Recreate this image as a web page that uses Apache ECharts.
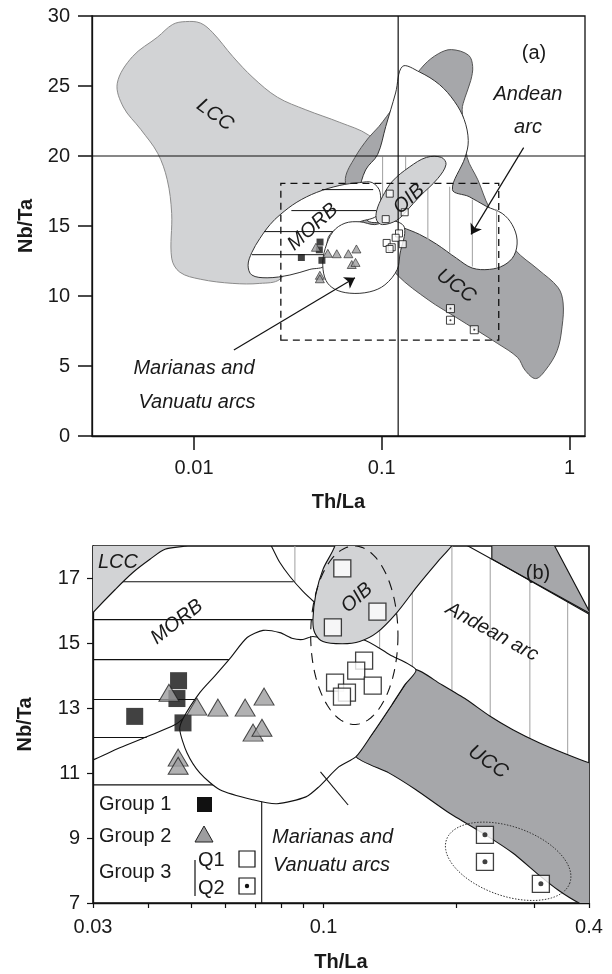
<!DOCTYPE html>
<html><head><meta charset="utf-8">
<script src="https://cdn.jsdelivr.net/npm/echarts@6/dist/echarts.min.js"></script>
<style>html,body{margin:0;padding:0;background:#fff}#c{width:612px;height:974px}</style>
</head><body><div id="c"></div>
<script>
// ---------- sample data (Th/La, Nb/Ta) ----------
const group1 = [[0.0373,12.75],[0.0469,13.85],[0.0465,13.3],[0.048,12.55]];
const group2 = [[0.0446,13.48],[0.0516,13.05],[0.0576,13.02],[0.0664,13.02],[0.0733,13.36],[0.0692,12.25],[0.0725,12.4],[0.0468,11.48],[0.0468,11.23]];
const q1 = [[0.1103,17.31],[0.1325,15.98],[0.105,15.49],[0.1236,14.47],[0.1186,14.16],[0.1062,13.79],[0.113,13.48],[0.1101,13.36],[0.1293,13.7]];
const q2 = [[0.2323,9.1],[0.2323,8.27],[0.3111,7.59]];

// ---------- tick values ----------
const topXTicks = [0.01, 0.1, 1];
const topYTicks = [0, 5, 10, 15, 20, 25, 30];
const botXLabels = [0.03, 0.1, 0.4];
const botXTicks = [0.03, 0.04, 0.05, 0.06, 0.07, 0.08, 0.09, 0.1, 0.2, 0.3, 0.4];
const botYTicks = [7, 9, 11, 13, 15, 17];

// ---------- field outlines, panel (a) ----------
const topLCC = [[0.0077,29.4],[0.0090,29.6],[0.0108,29.5],[0.0126,28.8],[0.0161,27.1],[0.0206,25.6],[0.0278,24.2],[0.0394,23.3],[0.0598,22.4],[0.085,21.5],[0.098,20.4],[0.076,17.9],[0.053,15.8],[0.037,13.3],[0.0287,11.2],[0.0224,10.9],[0.0161,10.9],[0.0108,11.2],[0.0084,11.7],[0.0076,12.7],[0.0076,15.9],[0.0072,18.3],[0.0064,20.2],[0.0052,21.9],[0.0042,23.5],[0.0039,25.2],[0.0047,27.1],[0.0064,28.5]];
const topUCC = [[0.168,26.5],[0.2,27.3],[0.235,27.6],[0.29,27.2],[0.305,26.4],[0.298,25.4],[0.278,24.2],[0.268,23.3],[0.278,21.9],[0.285,19.9],[0.325,18.3],[0.374,16.3],[0.448,14.8],[0.513,13.3],[0.68,11.9],[0.87,10.6],[0.925,9.5],[0.913,7.8],[0.86,6.1],[0.745,4.7],[0.66,4.1],[0.58,4.7],[0.53,5.6],[0.415,6.6],[0.247,8.5],[0.178,9.7],[0.121,11.5],[0.098,13.3],[0.081,15.1],[0.068,17.2],[0.064,18.4],[0.072,19.9],[0.085,21.3],[0.0965,22.1],[0.117,23.6],[0.14,25.1]];
const topAndean = [[0.129,26.4],[0.159,26.0],[0.203,25.1],[0.244,23.9],[0.275,22.6],[0.289,21.1],[0.278,19.9],[0.238,17.6],[0.292,17.1],[0.361,16.4],[0.438,15.9],[0.495,15.1],[0.526,14.0],[0.507,12.9],[0.448,12.2],[0.374,11.9],[0.303,12.0],[0.25,12.7],[0.196,13.7],[0.159,14.4],[0.129,14.9],[0.110,15.3],[0.086,15.3],[0.078,16.1],[0.076,17.4],[0.082,19.0],[0.095,20.1],[0.105,22.1],[0.1185,24.5]];
const topAndeanHatch = [[0.101,15.1,19.95],[0.134,19.0,19.95],[0.176,14.0,19.95],[0.23,13.1,17.8],[0.304,12.1,16.9],[0.409,12.0,16.2]];
const topMORB = [[0.0194,12.2],[0.0203,13.1],[0.0224,14.1],[0.0254,15.1],[0.0287,15.8],[0.0353,16.7],[0.045,17.4],[0.0598,17.9],[0.0764,18.1],[0.089,18.1],[0.098,17.4],[0.095,15.8],[0.0764,15.3],[0.053,14.4],[0.0498,12.2],[0.0414,11.9],[0.0324,11.5],[0.0245,11.3],[0.0203,11.5]];
const topMORBHatch = [[0.048,17.6,0.09],[0.033,16.1,0.094],[0.0236,14.6,0.062],[0.0203,12.95,0.05]];
const topMarianas = [[0.0485,12.2],[0.050,13.4],[0.055,14.6],[0.0637,15.2],[0.0764,15.3],[0.0918,15.1],[0.112,15.4],[0.132,14.9],[0.125,13.0],[0.121,11.9],[0.104,10.8],[0.0864,10.3],[0.0676,10.2],[0.056,10.5],[0.0505,11.1]];
const topOIB = [[0.208,19.9],[0.22,19.4],[0.199,18.4],[0.159,17.1],[0.136,16.1],[0.12,15.4],[0.101,15.1],[0.094,15.4],[0.094,16.1],[0.101,17.1],[0.114,18.2],[0.14,19.2],[0.173,19.9]];
const topRefLines = [[[0.002,20],[2,20]],[[0.1223,-1],[0.1223,31]]];
const topZoomBox = [[0.029,6.85],[0.42,6.85],[0.42,18.05],[0.029,18.05]];
const topArrows = [[[0.57,20.6],[0.299,14.4]],[[0.0163,6.14],[0.072,11.3]]];

// ---------- field outlines, panel (b) ----------
const botLCC = [[0.0285,18.4],[0.052,18.4],[0.050,18.05],[0.0437,17.9],[0.0404,17.59],[0.037,17.19],[0.0337,16.66],[0.0300,15.95],[0.0285,15.6]];
const botUCC = [[0.162,14.19],[0.1836,13.76],[0.2108,13.27],[0.2377,12.77],[0.2687,12.34],[0.3082,11.94],[0.3535,11.6],[0.4,11.32],[0.43,11.2],[0.43,6.7],[0.3797,7.0],[0.3403,7.4],[0.3082,7.86],[0.2687,8.54],[0.2329,9.1],[0.1924,9.78],[0.162,10.49],[0.1406,11.01],[0.1185,11.51],[0.1287,12.19],[0.1429,13.11],[0.153,13.73]];
const botUCCCorner = [[0.2408,18.2],[0.3284,18.2],[0.4052,15.86],[0.2408,17.6]];
const botOIB = [[0.1053,18.3],[0.1062,18.02],[0.0997,17.28],[0.0960,16.5],[0.0946,15.73],[0.0955,15.33],[0.0997,15.06],[0.1103,14.99],[0.1208,15.06],[0.1321,15.33],[0.1467,15.95],[0.1629,16.75],[0.1808,17.49],[0.1956,18.02],[0.2,18.3]];
const botMarianas = [[0.0480,12.68],[0.0524,13.48],[0.0567,14.0],[0.0613,14.53],[0.0671,15.18],[0.0729,15.40],[0.0796,15.33],[0.0852,15.15],[0.0898,15.12],[0.0946,15.21],[0.105,15.1],[0.1228,15.12],[0.1413,14.65],[0.162,14.19],[0.153,13.73],[0.1429,13.11],[0.1287,12.19],[0.1185,11.51],[0.1084,11.2],[0.0976,10.58],[0.0912,10.27],[0.0784,10.06],[0.0692,10.18],[0.0582,10.49],[0.0524,11.01],[0.0490,11.63],[0.0472,12.34]];
const botLobe = [[0.0756,18.08],[0.0768,17.9],[0.0796,17.49],[0.0839,17.06],[0.0898,16.6],[0.0955,16.26]];
const botDiagonal = [[0.2,18.2],[0.405,15.9]];
const botMORBBase = [[0.0285,11.3],[0.03,11.41],[0.0345,11.78],[0.0397,12.12],[0.046,12.49],[0.048,12.68]];
const botMORBHatch = [[0.034,16.9,0.0855],[0.028,15.73,0.0946],[0.028,14.5,0.0613],[0.028,13.27,0.0514],[0.028,12.1,0.0397]];
const botAndeanHatch = [[0.0861,16.9,18.3],[0.134,14.5,16],[0.159,14.0,17.0],[0.1955,13.3,18.3],[0.2388,12.5,17.62],[0.2937,11.8,16.97],[0.3578,11.3,16.32]];
const botOIBEllipse = [[0.0935,12.5,0.1475,18.0]];
const botQ2Ellipse = [[0.19,8.95,0.362,7.62,0.53]];
const botBoxLines = [[[0.028,10.64],[0.058,10.64]],[[0.0724,10.3],[0.0724,6.8]]];
const botLeader = [[0.0984,11.04],[0.1137,10.02]];

// ---------- helpers ----------
const FONT = 'Liberation Sans, Arial, sans-serif';
const LIGHT = '#d2d3d5', DARK = '#a6a7aa';

function shape(g, pts, style, smooth, closed) {
  return {
    type: 'custom', coordinateSystem: 'cartesian2d', xAxisIndex: g, yAxisIndex: g,
    clip: true, silent: true, animation: false, data: [pts[0]],
    renderItem: function (params, api) {
      const p = pts.map(function (d) { return api.coord(d); });
      return { type: closed === false ? 'polyline' : 'polygon', shape: { points: p, smooth: smooth || 0 }, style: style };
    }
  };
}
function hatch(g, rows, vertical, style) {
  return {
    type: 'custom', coordinateSystem: 'cartesian2d', xAxisIndex: g, yAxisIndex: g,
    clip: true, silent: true, animation: false, data: rows,
    renderItem: function (params, api) {
      let a, b;
      if (vertical) { a = api.coord([api.value(0), api.value(1)]); b = api.coord([api.value(0), api.value(2)]); }
      else { a = api.coord([api.value(0), api.value(1)]); b = api.coord([api.value(2), api.value(1)]); }
      return { type: 'line', shape: { x1: a[0], y1: a[1], x2: b[0], y2: b[1] }, style: style };
    }
  };
}
function ellipse(g, rows, rotated, style) {
  return {
    type: 'custom', coordinateSystem: 'cartesian2d', xAxisIndex: g, yAxisIndex: g,
    clip: true, silent: true, animation: false, data: rows,
    renderItem: function (params, api) {
      const a = api.coord([api.value(0), api.value(1)]), b = api.coord([api.value(2), api.value(3)]);
      const cx = (a[0] + b[0]) / 2, cy = (a[1] + b[1]) / 2;
      const pts = [];
      if (!rotated) {
        const rx = Math.abs(b[0] - a[0]) / 2, ry = Math.abs(b[1] - a[1]) / 2;
        for (let i = 0; i < 90; i++) { const t = i / 90 * 2 * Math.PI; pts.push([cx + rx * Math.cos(t), cy + ry * Math.sin(t)]); }
      } else {
        const L = Math.hypot(b[0] - a[0], b[1] - a[1]) / 2, th = Math.atan2(b[1] - a[1], b[0] - a[0]);
        const m = L * api.value(4);
        for (let i = 0; i < 90; i++) {
          const t = i / 90 * 2 * Math.PI, u = L * Math.cos(t), v = m * Math.sin(t);
          pts.push([cx + u * Math.cos(th) - v * Math.sin(th), cy + u * Math.sin(th) + v * Math.cos(th)]);
        }
      }
      return { type: 'polygon', shape: { points: pts }, style: style };
    }
  };
}
function scatter(g, data, symbol, size, itemStyle) {
  return { type: 'scatter', xAxisIndex: g, yAxisIndex: g, data: data, symbol: symbol, symbolSize: size, itemStyle: itemStyle, silent: true, animation: false };
}
function fmt(v) { return String(parseFloat(Number(v).toPrecision(6))); }

const line1 = { stroke: '#111', lineWidth: 1.1, fill: null };
const grayHatch = { stroke: '#a8a8a8', lineWidth: 1.1 };

const series = [
  // panel (a)
  shape(0, topLCC, { fill: LIGHT, stroke: '#8c8c8c', lineWidth: 1 }, 0.35),
  shape(0, topUCC, { fill: DARK, stroke: '#555', lineWidth: 1 }, 0.35),
  shape(0, topAndean, { fill: '#fff', stroke: '#333', lineWidth: 1 }, 0.35),
  hatch(0, topAndeanHatch, true, grayHatch),
  shape(0, topMORB, { fill: '#fff', stroke: '#333', lineWidth: 1 }, 0.35),
  hatch(0, topMORBHatch, false, { stroke: '#111', lineWidth: 1 }),
  shape(0, topMarianas, { fill: '#fff', stroke: '#333', lineWidth: 1 }, 0.35),
  shape(0, topOIB, { fill: LIGHT, stroke: '#333', lineWidth: 1 }, 0.35),
  shape(0, topRefLines[0], { stroke: '#111', lineWidth: 1.2, fill: null }, 0, false),
  shape(0, topRefLines[1], { stroke: '#111', lineWidth: 1.2, fill: null }, 0, false),
  shape(0, topZoomBox, { stroke: '#111', lineWidth: 1.3, fill: null, lineDash: [7, 5] }, 0),
  { type: 'lines', coordinateSystem: 'cartesian2d', xAxisIndex: 0, yAxisIndex: 0, silent: true, animation: false,
    symbol: ['none', 'arrow'], symbolSize: 10, lineStyle: { color: '#111', width: 1.2, opacity: 1 },
    data: topArrows.map(function (c) { return { coords: c }; }) },
  scatter(0, group1, 'rect', 7, { color: '#111' }),
  scatter(0, group2, 'triangle', [9, 8], { color: '#9d9d9f', borderColor: '#222', borderWidth: 0.8 }),
  scatter(0, q1, 'rect', 7, { color: '#fff', borderColor: '#111', borderWidth: 1 }),
  scatter(0, q2, 'rect', 8, { color: '#fff', borderColor: '#111', borderWidth: 1 }),
  scatter(0, q2, 'circle', 2, { color: '#111' }),

  // panel (b)
  hatch(1, botAndeanHatch, true, grayHatch),
  hatch(1, botMORBHatch, false, { stroke: '#111', lineWidth: 1.1 }),
  shape(1, botLCC, { fill: LIGHT, stroke: '#111', lineWidth: 1.1 }, 0.3),
  shape(1, botUCC, { fill: DARK, stroke: '#111', lineWidth: 1.1 }, 0.2),
  shape(1, botUCCCorner, { fill: DARK, stroke: '#111', lineWidth: 1.1 }, 0),
  shape(1, botLobe, line1, 0.3, false),
  shape(1, botDiagonal, line1, 0, false),
  shape(1, botMORBBase, line1, 0.3, false),
  shape(1, botBoxLines[0], line1, 0, false),
  shape(1, botBoxLines[1], line1, 0, false),
  shape(1, botMarianas, { fill: '#fff', stroke: '#111', lineWidth: 1.1 }, 0.25),
  shape(1, botOIB, { fill: LIGHT, stroke: '#111', lineWidth: 1.1 }, 0.3),
  ellipse(1, botOIBEllipse, false, { fill: null, stroke: '#111', lineWidth: 1.1, lineDash: [10, 7] }),
  ellipse(1, botQ2Ellipse, true, { fill: null, stroke: '#333', lineWidth: 1, lineDash: [1.5, 1.5] }),
  shape(1, botLeader, line1, 0, false),
  scatter(1, group1, 'rect', 17, { color: '#111' }),
  scatter(1, group2, 'triangle', [20, 17], { color: '#9d9d9f', borderColor: '#222', borderWidth: 1 }),
  scatter(1, q1, 'rect', 17, { color: '#fff', borderColor: '#111', borderWidth: 1.3 }),
  scatter(1, q2, 'rect', 17, { color: '#fff', borderColor: '#111', borderWidth: 1.3 }),
  scatter(1, q2, 'circle', 5, { color: '#111' })
];

const axisFont = { fontFamily: FONT, fontSize: 20, color: '#1a1a1a' };
const nameFont = { fontFamily: FONT, fontSize: 20, fontWeight: 'bold', color: '#1a1a1a' };
const axLine = { show: true, lineStyle: { color: '#111', width: 1.3 } };

const xAxis = [
  { type: 'log', gridIndex: 0, min: 0.00286, max: 1.21, axisLine: axLine, splitLine: { show: false },
    axisTick: { show: true, inside: false, length: 14, customValues: topXTicks, lineStyle: { color: '#111', width: 1.5 } },
    axisLabel: Object.assign({ margin: 22, customValues: topXTicks, formatter: fmt }, axisFont),
    minorTick: { show: false },
    name: 'Th/La', nameLocation: 'middle', nameGap: 56, nameTextStyle: nameFont },
  { type: 'log', gridIndex: 1, min: 0.03, max: 0.4, axisLine: axLine, splitLine: { show: false },
    axisTick: { show: true, inside: false, length: 5, customValues: botXTicks, lineStyle: { color: '#111', width: 1.2 } },
    axisLabel: Object.assign({ margin: 14, customValues: botXLabels, formatter: fmt, showMinLabel: true, showMaxLabel: true }, axisFont),
    name: 'Th/La', nameLocation: 'middle', nameGap: 49, nameTextStyle: nameFont }
];
const yAxis = [
  { type: 'value', gridIndex: 0, min: 0, max: 30, interval: 5, axisLine: axLine, splitLine: { show: false },
    axisTick: { show: true, inside: false, length: 14, customValues: topYTicks, lineStyle: { color: '#111', width: 1.5 } },
    axisLabel: Object.assign({ margin: 22, customValues: topYTicks }, axisFont),
    name: 'Nb/Ta', nameLocation: 'middle', nameGap: 55, nameTextStyle: nameFont },
  { type: 'value', gridIndex: 1, min: 7, max: 18, interval: 2, axisLine: axLine, splitLine: { show: false },
    axisTick: { show: true, inside: false, length: 6, customValues: botYTicks, lineStyle: { color: '#111', width: 1.2 } },
    axisLabel: Object.assign({ margin: 13, customValues: botYTicks }, axisFont),
    name: 'Nb/Ta', nameLocation: 'middle', nameGap: 58, nameTextStyle: nameFont }
];

function txt(x, y, text, opts) {
  opts = opts || {};
  return { type: 'text', x: x, y: y, rotation: opts.rot || 0, z: 100, silent: true,
    style: { text: text, font: (opts.italic ? 'italic ' : '') + (opts.size || 20) + 'px ' + FONT, fill: '#1a1a1a',
      align: opts.align || 'center', verticalAlign: 'middle' } };
}
const graphic = [
  txt(534, 53, '(a)'),
  txt(528, 94, 'Andean', { italic: true }),
  txt(528, 127, 'arc', { italic: true }),
  txt(215, 115, 'LCC', { italic: true, rot: -0.63 }),
  txt(313, 227, 'MORB', { italic: true, rot: 0.73 }),
  txt(409, 199, 'OIB', { italic: true, rot: 0.75 }),
  txt(456, 286, 'UCC', { italic: true, rot: -0.63 }),
  txt(194, 368, 'Marianas and', { italic: true }),
  txt(197, 402, 'Vanuatu arcs', { italic: true }),

  txt(118, 562, 'LCC', { italic: true }),
  txt(177, 622, 'MORB', { italic: true, rot: 0.66 }),
  txt(357, 598, 'OIB', { italic: true, rot: 0.72 }),
  txt(492, 632, 'Andean arc', { italic: true, rot: -0.5 }),
  txt(488, 762, 'UCC', { italic: true, rot: -0.6 }),
  txt(538, 573, '(b)'),
  txt(272, 837, 'Marianas and', { italic: true, align: 'left' }),
  txt(273, 865, 'Vanuatu arcs', { italic: true, align: 'left' }),

  txt(99, 804, 'Group 1', { align: 'left' }),
  txt(99, 836, 'Group 2', { align: 'left' }),
  txt(99, 872, 'Group 3', { align: 'left' }),
  txt(198, 860, 'Q1', { align: 'left' }),
  txt(198, 888, 'Q2', { align: 'left' }),
  { type: 'rect', z: 100, silent: true, shape: { x: 197, y: 797, width: 15, height: 15 }, style: { fill: '#111' } },
  { type: 'polygon', z: 100, silent: true, shape: { points: [[204, 826], [213, 842], [195, 842]] }, style: { fill: '#9d9d9f', stroke: '#222', lineWidth: 1 } },
  { type: 'line', z: 100, silent: true, shape: { x1: 195, y1: 860, x2: 195, y2: 896 }, style: { stroke: '#111', lineWidth: 1.2 } },
  { type: 'rect', z: 100, silent: true, shape: { x: 239, y: 851, width: 16, height: 16 }, style: { fill: '#fff', stroke: '#111', lineWidth: 1.2 } },
  { type: 'rect', z: 100, silent: true, shape: { x: 239, y: 878, width: 16, height: 16 }, style: { fill: '#fff', stroke: '#111', lineWidth: 1.2 } },
  { type: 'circle', z: 100, silent: true, shape: { cx: 247, cy: 886, r: 2.2 }, style: { fill: '#111' } }
];

const chart = echarts.init(document.getElementById('c'), null, { renderer: 'canvas' });
chart.setOption({
  animation: false,
  backgroundColor: '#fff',
  grid: [
    { left: 92, top: 16, width: 493, height: 420, show: true, borderColor: '#111', borderWidth: 1.3, backgroundColor: 'transparent' },
    { left: 93, top: 546, width: 496, height: 357, show: true, borderColor: '#111', borderWidth: 1.6, backgroundColor: 'transparent' }
  ],
  xAxis: xAxis,
  yAxis: yAxis,
  series: series,
  graphic: graphic
});
</script></body></html>
